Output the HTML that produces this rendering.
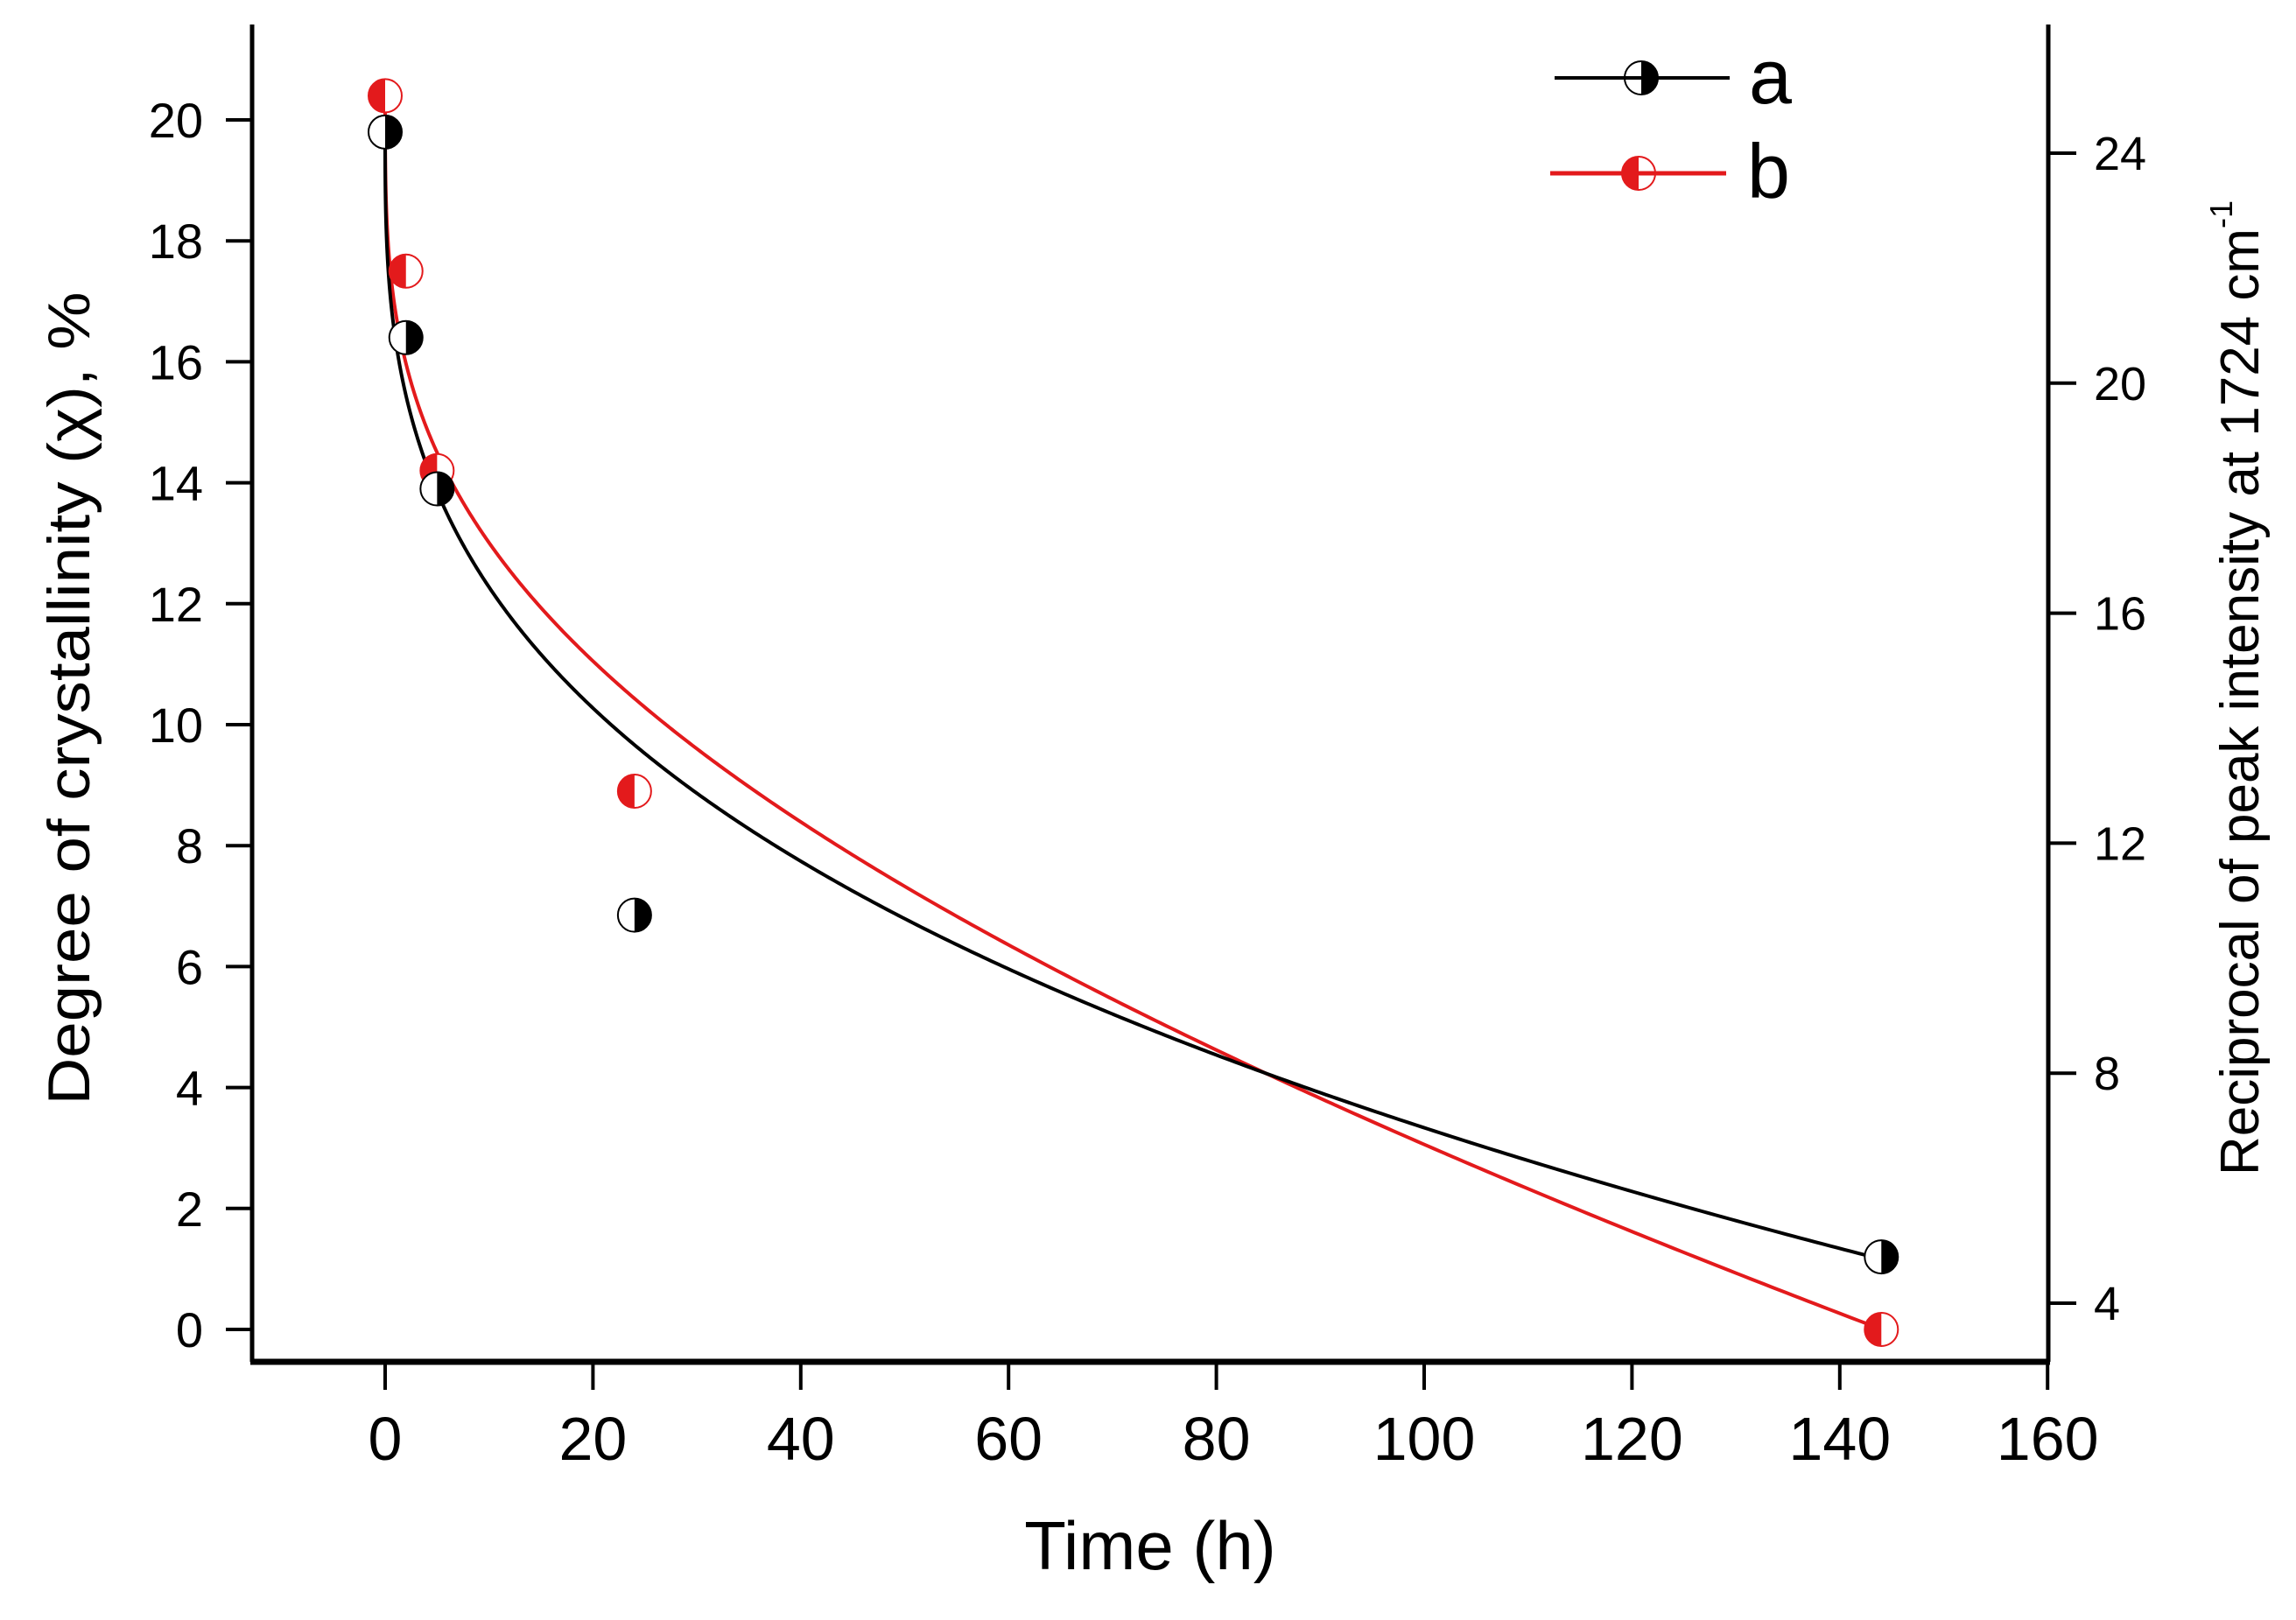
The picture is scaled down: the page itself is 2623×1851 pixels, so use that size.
<!DOCTYPE html>
<html><head><meta charset="utf-8"><style>html,body{margin:0;padding:0;background:#fff}svg{display:block}</style></head>
<body>
<svg id="s" width="2623" height="1851" viewBox="0 0 2623 1851" xmlns="http://www.w3.org/2000/svg" font-family="Liberation Sans, Arial, sans-serif">
<rect width="2623" height="1851" fill="#fff"/>
<g id="ax" stroke="#000" fill="none"></g>
<g id="lab" fill="#000"></g>
<g id="cv"></g>
<g id="mk"></g>
<text x="1314" y="1793" font-size="78" text-anchor="middle">Time (h)</text>
<text transform="translate(102,798) rotate(-90)" font-size="68" text-anchor="middle" textLength="929" lengthAdjust="spacingAndGlyphs">Degree of crystallinity (χ), %</text>
<text transform="translate(2580,786) rotate(-90)" font-size="62" text-anchor="middle">Reciprocal of peak intensity at 1724 cm<tspan dy="-30" font-size="36">-1</tspan></text>
<line x1="1776" y1="89" x2="1976" y2="89" stroke="#000" stroke-width="4"/>
<line x1="1771" y1="198" x2="1972" y2="198" stroke="#e31a1c" stroke-width="5"/>
<text x="1998" y="118" font-size="88">a</text>
<text x="1996" y="226" font-size="88">b</text>
</svg>
<script>
const NS="http://www.w3.org/2000/svg";
const X=x=>440+x*11.87, Y=v=>1519-v*69.1, YR=v=>175+262.8*(24-v)/4;
function el(p,t,a,txt){const e=document.createElementNS(NS,t);for(const k in a)e.setAttribute(k,a[k]);if(txt!==undefined)e.textContent=txt;document.getElementById(p).appendChild(e);return e;}
el('ax','line',{x1:288,y1:28,x2:288,y2:1556,'stroke-width':5});
el('ax','line',{x1:2340,y1:28,x2:2340,y2:1556,'stroke-width':5});
el('ax','line',{x1:286,y1:1556,x2:2342,y2:1556,'stroke-width':7});
for(let v=0;v<=20;v+=2){const y=Y(v);el('ax','line',{x1:258,y1:y,x2:288,y2:y,'stroke-width':4});el('lab','text',{x:232,y:y+20,'font-size':56,'text-anchor':'end'},v);}
for(let x=0;x<=160;x+=20){const xx=X(x);el('ax','line',{x1:xx,y1:1556,x2:xx,y2:1588,'stroke-width':4});el('lab','text',{x:xx,y:1668,'font-size':70,'text-anchor':'middle'},x);}
for(let v=4;v<=24;v+=4){const y=YR(v);el('ax','line',{x1:2340,y1:y,x2:2372,y2:y,'stroke-width':4});el('lab','text',{x:2392,y:y+19,'font-size':54},v);}
const fa=x=>19.8-3.44*Math.pow(x,0.34);
const fb=x=>20.4-3.542*Math.pow(x,0.3)-0.0324*x;
function path(f){let d='';for(let i=0;i<=600;i++){const t=i/600;const x=144*t*t*t;d+=(i?'L':'M')+X(x).toFixed(2)+','+Y(f(x)).toFixed(2);}return d;}
el('cv','path',{d:path(fb),stroke:'#e31a1c','stroke-width':4,fill:'none'});
el('cv','path',{d:path(fa),stroke:'#000','stroke-width':4,fill:'none'});
function mk(cx,cy,col,rightFilled){const r=19;el('mk','circle',{cx,cy,r,fill:'#fff',stroke:col,'stroke-width':2});
const d=rightFilled?`M${cx},${cy-r} A${r},${r} 0 0 1 ${cx},${cy+r} Z`:`M${cx},${cy-r} A${r},${r} 0 0 0 ${cx},${cy+r} Z`;el('mk','path',{d,fill:col});}
[[0,20.4],[2,17.5],[5,14.2],[24,8.9],[144,0]].forEach(p=>mk(X(p[0]),Y(p[1]),'#e31a1c',false));
[[0,19.8],[2,16.4],[5,13.9],[24,6.85],[144,1.2]].forEach(p=>mk(X(p[0]),Y(p[1]),'#000',true));
mk(1875,89,'#000',true);mk(1872,198,'#e31a1c',false);
</script>
</body></html>
